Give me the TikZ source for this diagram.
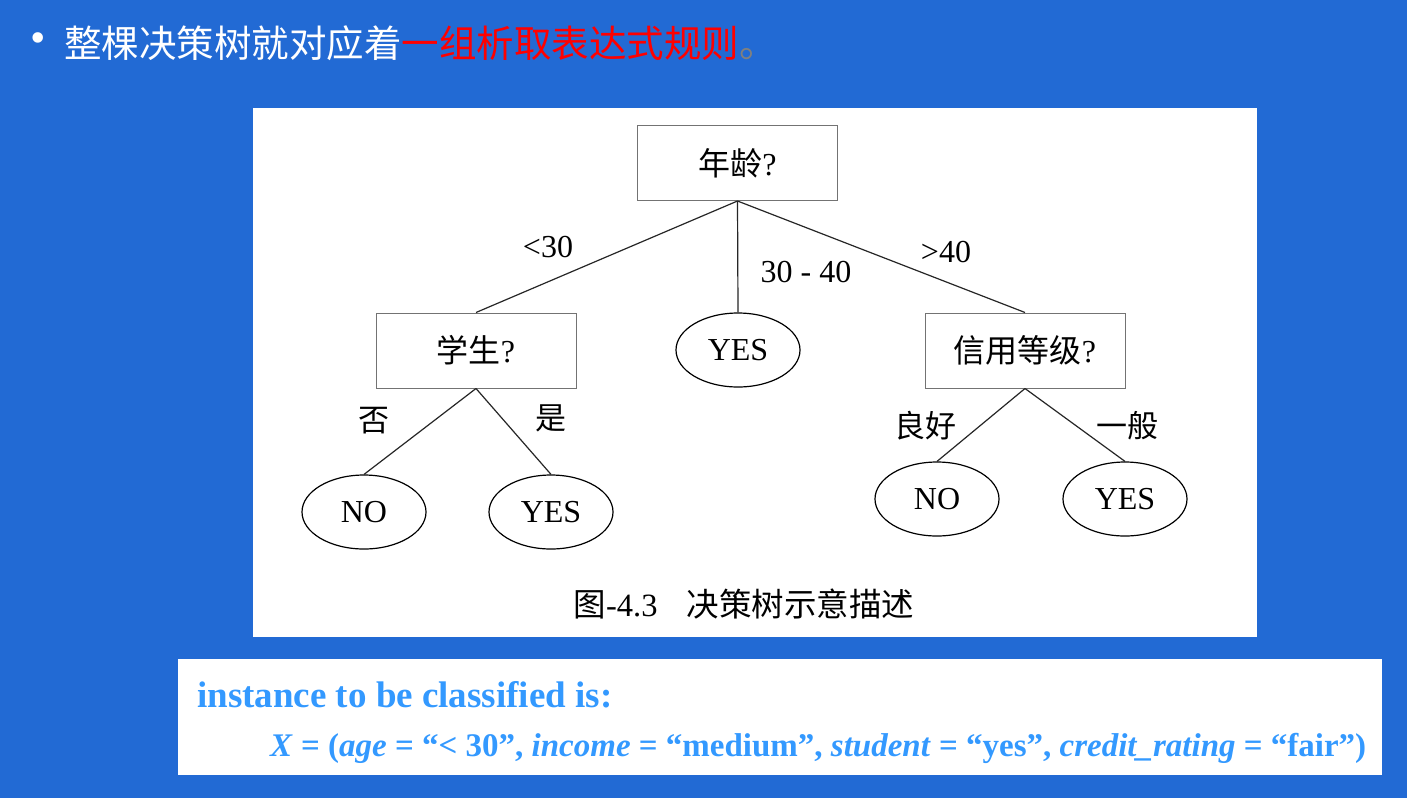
\documentclass[tikz,border=0pt]{standalone}
\usepackage{fontspec}
\setmainfont{Liberation Serif}
\newfontfamily\cjk{Noto Sans CJK SC}
\usetikzlibrary{shapes.geometric}
\definecolor{slidebg}{RGB}{34,106,212}
\definecolor{rulered}{RGB}{255,0,0}
\definecolor{instblue}{RGB}{51,153,255}
\begin{document}
\begin{tikzpicture}[x=1pt,y=-1pt,
  qbox/.style={draw=black!55, line width=1pt, minimum width=200pt, minimum height=75pt,
    inner sep=0pt, font=\fontsize{32}{36}\selectfont},
  leaf/.style={ellipse, draw=black, line width=1.2pt, minimum width=124pt, minimum height=74pt,
    inner sep=0pt, font=\fontsize{32}{36}\selectfont},
  branch/.style={draw=black!85, line width=1.2pt},
  lbl/.style={font=\fontsize{32}{36}\selectfont, inner sep=0pt},
  cjklbl/.style={font=\cjk\fontsize{31}{36}\selectfont, inner sep=0pt},
]
% slide background
\fill[slidebg] (0,0) rectangle (1407,798);
\useasboundingbox (0,0) rectangle (1407,798);

% heading line
\node[text=white, font=\fontsize{44}{44}\selectfont, inner sep=0pt] (bullet) at (38,43) {•};
\node[anchor=west, text=white, font=\cjk\fontsize{37.5}{40}\selectfont, inner sep=0pt] (title) at (64,43)
  {整棵决策树就对应着\textcolor{rulered}{一组析取表达式规则}\textcolor{gray}{。}};

% figure panel
\fill[white] (253,108) rectangle (1257,637);

% decision nodes
\node[qbox] (age) at (737.5,163) {{\cjk 年龄}?};
\node[qbox] (stu) at (476,350.5) {{\cjk 学生}?};
\node[qbox] (cred) at (1025,350.5) {{\cjk 信用等级}?};

% leaves
\node[leaf] (midyes) at (738,350) {YES};
\node[leaf] (stuno) at (364,512) {NO};
\node[leaf] (stuyes) at (551,512) {YES};
\node[leaf] (credno) at (937,499) {NO};
\node[leaf] (credyes) at (1125,499) {YES};

% branches
\draw[branch] (age.south) -- (stu.north);
\draw[branch] (age.south) -- (midyes.north);
\draw[branch] (age.south) -- (cred.north);
\draw[branch] (stu.south) -- (stuno.north);
\draw[branch] (stu.south) -- (stuyes.north);
\draw[branch] (cred.south) -- (credno.north);
\draw[branch] (cred.south) -- (credyes.north);

% branch labels
\node[lbl] (l30) at (548,247) {<30};
\node[lbl] (l3040) at (806,272) {30 - 40};
\node[lbl] (l40) at (946,252) {>40};
\node[cjklbl] (lno) at (374,421) {否};
\node[cjklbl] (lyes) at (551,418) {是};
\node[cjklbl] (lgood) at (925,426) {良好};
\node[cjklbl] (lfair) at (1127,426) {一般};

% caption
\node[font=\fontsize{32.5}{36}\selectfont, inner sep=0pt] (caption) at (744,604)
  {{\cjk 图}-4.3\hspace{0.9em}{\cjk 决策树示意描述}};

% instance panel
\fill[white] (178,659) rectangle (1382,775);
\node[anchor=west, text=instblue, font=\bfseries\fontsize{37}{40}\selectfont, inner sep=0pt] (inst) at (197,695)
  {instance to be classified is:};
\node[anchor=west, text=instblue, font=\bfseries\fontsize{33}{40}\selectfont, inner sep=0pt] (xrow) at (270,748)
  {\textit{X} = (\textit{age} = “< 30”, \textit{income} = “medium”, \textit{student} = “yes”, \textit{credit\_rating} = “fair”)};
\end{tikzpicture}
\end{document}
